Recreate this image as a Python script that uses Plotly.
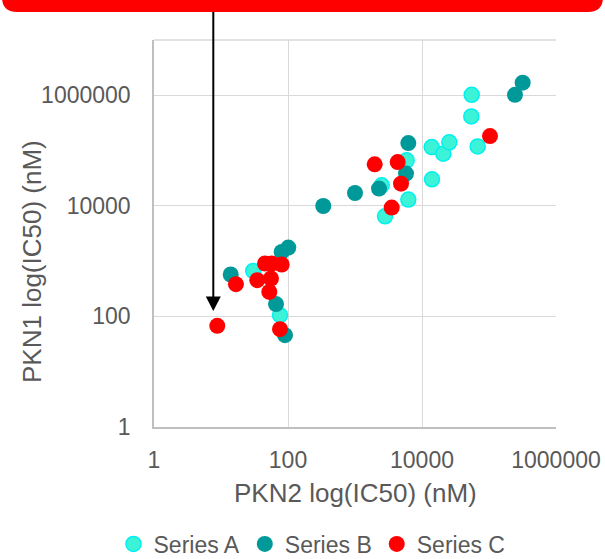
import numpy as np
import plotly.graph_objects as go

# ---- data ----
a_x = [30.3, 76, 2505, 2805, 5910, 6250, 13960, 20800, 25540, 14100, 55200, 54400, 67800]
a_y = [666, 105, 23500, 6470, 66500, 13000, 115700, 87900, 140700, 30200, 1.02e6, 415000, 119000]

b_x = [13.96, 80.5, 101, 66.2, 90.2, 336, 1000, 2282, 6250, 5770, 244000, 318000]
b_y = [573, 1470, 1760, 167, 45.9, 9940, 17060, 20500, 136700, 38300, 1.02e6, 1.69e6]

c_x = [8.8, 16.7, 34.8, 45.4, 57.1, 80.5, 55.7, 52.6, 76, 1968, 4335, 4860, 3530, 103500]
c_y = [67.6, 383, 452, 906, 906, 869, 485, 278, 58.9, 56300, 62000, 25200, 9310, 183000]

tick_vals = [1, 100, 10000, 1000000]
tick_text = ["1", "100", "10000", "1000000"]
series_names = ["Series A", "Series B", "Series C"]

# ---- layout geometry (pixels) ----
W, H = 605, 559
L, R, T, B = 154, 556, 40, 427
PW, PH = R - L, B - T

def px(x):
    return (x - L) / PW

def py(y):
    return (B - y) / PH

TXT = "#595959"
FONT = "Liberation Sans, Arial, sans-serif"

fig = go.Figure()
fig.add_trace(go.Scatter(x=a_x, y=a_y, mode="markers", name=series_names[0],
                         marker=dict(size=15, color="#3CF3D8",
                                     line=dict(color="#00F0F0", width=1.5))))
fig.add_trace(go.Scatter(x=b_x, y=b_y, mode="markers", name=series_names[1],
                         marker=dict(size=16, color="#009999",
                                     line=dict(color="#009999", width=0))))
fig.add_trace(go.Scatter(x=c_x, y=c_y, mode="markers", name=series_names[2],
                         marker=dict(size=16, color="#FF0000",
                                     line=dict(color="#FF0000", width=0))))

axis_common = dict(
    type="log",
    tickvals=tick_vals,
    ticktext=tick_text,
    showgrid=True,
    gridcolor="#D9D9D9",
    gridwidth=1.3,
    zeroline=False,
    showline=True,
    linecolor="#BFBFBF",
    linewidth=1.5,
    ticks="",
    automargin=False,
    tickfont=dict(family=FONT, size=23, color=TXT),
)

fig.update_layout(
    width=W, height=H,
    margin=dict(l=L, r=W - R, t=T, b=H - B, autoexpand=False),
    paper_bgcolor="white",
    plot_bgcolor="white",
    showlegend=True,
    legend=dict(orientation="h", x=px(312), y=py(544), xanchor="center",
                yanchor="middle", font=dict(family=FONT, size=23, color=TXT),
                itemwidth=30, bgcolor="rgba(0,0,0,0)"),
    xaxis=dict(range=[0, 6], ticklabelstandoff=12, **axis_common),
    yaxis=dict(range=[0, 7], ticklabelstandoff=17, **axis_common),
)

# top border of plot area
fig.add_shape(type="line", xref="paper", yref="paper", x0=0, x1=1, y0=1, y1=1,
              line=dict(color="#D9D9D9", width=1.5))

# axis titles
fig.add_annotation(text="PKN2 log(IC50) (nM)", xref="paper", yref="paper",
                   x=px(355), y=py(493), showarrow=False, xanchor="center",
                   yanchor="middle", font=dict(family=FONT, size=26, color=TXT))
fig.add_annotation(text="PKN1 log(IC50) (nM)", xref="paper", yref="paper",
                   x=px(32), y=py(262), showarrow=False, textangle=-90,
                   xanchor="center", yanchor="middle",
                   font=dict(family=FONT, size=26, color=TXT))

# red banner (rounded bottom corners), cut at top
r = 15
x0, x1, y0, y1 = 2, 603, -30, 12
path = (f"M {px(x0)},{py(y0)} L {px(x0)},{py(y1 - r)} "
        f"Q {px(x0)},{py(y1)} {px(x0 + r)},{py(y1)} "
        f"L {px(x1 - r)},{py(y1)} "
        f"Q {px(x1)},{py(y1)} {px(x1)},{py(y1 - r)} "
        f"L {px(x1)},{py(y0)} Z")
fig.add_shape(type="path", xref="paper", yref="paper", path=path,
              fillcolor="#FF0000", line=dict(width=0), layer="above")

# black arrow
ax_x = 213.3
fig.add_shape(type="line", xref="paper", yref="paper",
              x0=px(ax_x), x1=px(ax_x), y0=py(12), y1=py(300),
              line=dict(color="black", width=2))
tri = (f"M {px(ax_x - 7.5)},{py(296.5)} L {px(ax_x + 7.5)},{py(296.5)} "
       f"L {px(ax_x)},{py(311)} Z")
fig.add_shape(type="path", xref="paper", yref="paper", path=tri,
              fillcolor="black", line=dict(width=0))

fig.write_html("out.html",
               config={"displayModeBar": False},
               post_script="document.body.style.margin='0';"
                           "document.body.style.overflow='hidden';")
